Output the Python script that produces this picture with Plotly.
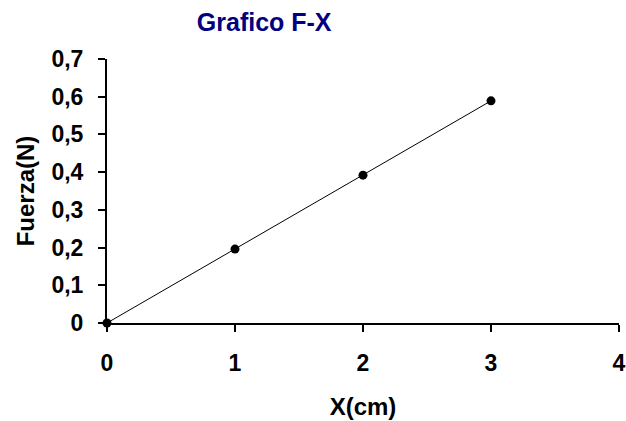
import plotly.graph_objects as go

x_cm = [0, 1, 2, 3]
fuerza_n = [0, 0.196, 0.392, 0.589]
x_ticks = [0, 1, 2, 3, 4]
y_ticks = [0, 0.1, 0.2, 0.3, 0.4, 0.5, 0.6, 0.7]

fig = go.Figure()
fig.add_trace(go.Scatter(
    x=x_cm, y=fuerza_n, mode="lines+markers",
    line=dict(color="black", width=1),
    marker=dict(color="black", size=9),
    cliponaxis=False,
))

font_family = "Liberation Sans, Arial, sans-serif"

fig.update_layout(
    width=626, height=421,
    margin=dict(l=107, r=7, t=59, b=98, autoexpand=False),
    paper_bgcolor="white", plot_bgcolor="white",
    separators=",.",
    showlegend=False,
    font=dict(family=font_family, color="black"),
    title=dict(text="<b>Grafico F-X</b>", x=0.422, xref="container", xanchor="center",
               y=0.947, yref="container", yanchor="middle",
               font=dict(size=25, color="#000080", family=font_family)),
    xaxis=dict(range=[0, 4], tickvals=x_ticks, showgrid=False, zeroline=False,
               automargin=False,
               showline=True, linecolor="black", linewidth=2,
               ticks="outside", ticklen=7, tickwidth=2, tickcolor="black",
               tickfont=dict(size=23, family=font_family, color="black"),
               ticklabelstandoff=11,
               title=dict(text="<b>X(cm)</b>", font=dict(size=24, family=font_family), standoff=24)),
    yaxis=dict(range=[0, 0.7], tickvals=y_ticks, showgrid=False, zeroline=False,
               automargin=False,
               showline=True, linecolor="black", linewidth=2,
               ticks="outside", ticklen=7, tickwidth=2, tickcolor="black",
               tickfont=dict(size=23, family=font_family, color="black"),
               ticklabelstandoff=10,
               title=dict(text="<b>Fuerza(N)</b>", font=dict(size=24, family=font_family), standoff=10)),
)
fig.update_xaxes(tickfont_weight="bold")
fig.update_yaxes(tickfont_weight="bold")

fig.write_html("out.html", config={"displayModeBar": False},
               post_script="document.body.style.margin='0';document.body.style.overflow='hidden';")
